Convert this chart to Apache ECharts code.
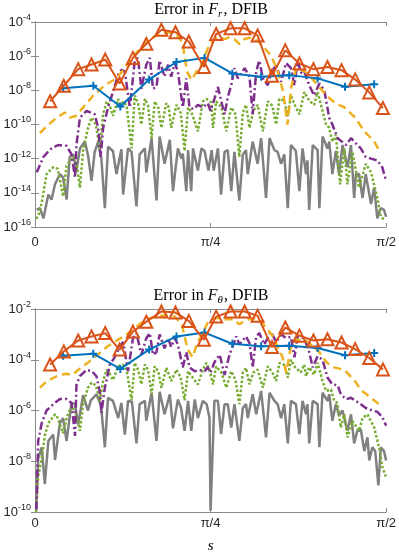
<!DOCTYPE html>
<html lang="en">
<head>
    <meta charset="UTF-8">
    <title>Error in F, DFIB</title>
    <style>
        html, body { margin: 0; padding: 0; background: #fff; }
    </style>
</head>
<body>
    <div id="main" style="height:555px; width: 399px;"></div>
    <script src="https://cdn.jsdelivr.net/npm/echarts@6/dist/echarts.min.js"></script>
    <script>
        // x is stored as a fraction of pi/2, y as log10 of the error
        var HALF_PI = Math.PI / 2;

        // markers: orange triangles and blue pluses
        var triX = [0.043, 0.082, 0.123, 0.161, 0.200, 0.241, 0.279, 0.317, 0.360, 0.400, 0.438, 0.481, 0.516,
            0.557, 0.597, 0.634, 0.675, 0.713, 0.753, 0.793, 0.833, 0.873, 0.912, 0.952, 0.991];
        var triTop = [-8.64, -7.73, -6.76, -6.49, -6.2, -7.6, -6.1, -5.28, -4.46, -4.6, -5.14, -6.63, -4.7,
            -4.37, -4.37, -4.79, -7.15, -5.66, -6.43, -6.76, -6.63, -6.82, -7.36, -8.12, -9.04];
        var triBot = [-4.19, -3.67, -3.24, -3.08, -2.95, -3.6, -2.89, -2.5, -2.1, -2.14, -2.47, -3.21, -2.3,
            -2.1, -2.1, -2.27, -3.5, -2.73, -3.05, -3.24, -3.19, -3.32, -3.58, -3.93, -4.38];
        var plusX = [0.080, 0.166, 0.243, 0.325, 0.403, 0.483, 0.562, 0.644, 0.724, 0.805, 0.883, 0.966];
        var plusTop = [-7.88, -7.73, -8.95, -7.36, -6.34, -6.1, -7.01, -7.2, -7.11, -7.3, -7.79, -7.65];
        var plusBot = [-3.84, -3.76, -4.36, -3.6, -3.08, -2.93, -3.37, -3.47, -3.45, -3.54, -3.82, -3.73];

        // F_r curves
        var grayTop = [[0.005,-15.0],[0.014,-14.9],[0.024,-15.5],[0.038,-14.1],[0.047,-14.4],[0.057,-13.5],[0.071,-12.9],
            [0.080,-13.1],[0.090,-14.4],[0.099,-11.9],[0.109,-11.75],[0.118,-12.7],[0.128,-11.4],[0.142,-11.0],[0.151,-11.8],
            [0.161,-13.3],[0.170,-11.6],[0.180,-11.0],[0.189,-12.0],[0.199,-14.9],[0.208,-11.3],[0.222,-11.55],[0.232,-12.9],
            [0.246,-11.45],[0.251,-14.1],[0.265,-11.4],[0.275,-11.6],[0.289,-14.8],[0.298,-11.75],[0.313,-11.4],[0.317,-12.8],
            [0.332,-10.8],[0.346,-14.45],[0.355,-10.7],[0.369,-12.3],[0.384,-10.9],[0.393,-13.9],[0.407,-11.4],[0.417,-12.0],
            [0.421,-11.7],[0.431,-13.9],[0.436,-11.5],[0.445,-13.9],[0.450,-11.4],[0.464,-12.7],[0.474,-11.4],[0.483,-11.55],
            [0.494,-12.7],[0.503,-11.5],[0.509,-12.7],[0.521,-11.4],[0.530,-14.1],[0.540,-11.6],[0.549,-11.5],[0.559,-13.9],
            [0.568,-11.6],[0.582,-14.45],[0.592,-11.75],[0.601,-11.5],[0.606,-12.9],[0.620,-11.0],[0.634,-12.3],[0.644,-10.8],
            [0.658,-14.3],[0.668,-10.8],[0.682,-11.5],[0.691,-11.6],[0.701,-12.3],[0.710,-11.75],[0.720,-14.9],[0.729,-11.2],
            [0.743,-11.55],[0.753,-13.9],[0.762,-11.4],[0.772,-12.9],[0.776,-12.1],[0.781,-15.0],[0.791,-11.2],[0.805,-11.5],
            [0.810,-14.9],[0.819,-10.7],[0.833,-11.4],[0.838,-11.0],[0.847,-12.9],[0.857,-11.55],[0.866,-12.9],[0.876,-11.2],
            [0.890,-12.5],[0.900,-11.2],[0.909,-14.3],[0.914,-12.9],[0.923,-12.9],[0.933,-14.3],[0.942,-12.9],[0.957,-14.65],
            [0.966,-13.7],[0.975,-15.5],[0.985,-14.9],[0.994,-15.0],[1.0,-15.4]];
        var greenTop = [[0.003,-15.5],[0.009,-15.4],[0.019,-14.6],[0.033,-12.9],[0.052,-12.5],[0.065,-12.6],[0.080,-14.2],
            [0.090,-12.4],[0.109,-11.9],[0.119,-12.4],[0.128,-13.7],[0.137,-11.5],[0.151,-10.2],[0.161,-9.6],[0.173,-10.0],
            [0.185,-11.4],[0.194,-9.4],[0.204,-8.65],[0.213,-8.9],[0.222,-9.5],[0.237,-8.5],[0.244,-9.0],[0.251,-8.65],
            [0.261,-8.9],[0.275,-11.4],[0.284,-8.3],[0.294,-8.8],[0.303,-10.0],[0.313,-8.5],[0.322,-8.9],[0.332,-10.8],
            [0.341,-8.65],[0.351,-9.0],[0.360,-10.2],[0.374,-8.75],[0.381,-9.0],[0.388,-10.2],[0.403,-8.85],[0.415,-9.3],
            [0.426,-11.55],[0.436,-9.0],[0.446,-9.3],[0.464,-10.4],[0.478,-8.65],[0.488,-8.5],[0.502,-8.7],[0.507,-10.2],
            [0.516,-8.65],[0.531,-9.0],[0.545,-10.4],[0.559,-9.0],[0.571,-9.4],[0.582,-11.9],[0.592,-9.3],[0.601,-8.85],
            [0.611,-10.2],[0.622,-9.2],[0.634,-8.85],[0.649,-10.4],[0.663,-8.65],[0.676,-8.9],[0.687,-10.0],[0.696,-8.5],
            [0.710,-8.6],[0.720,-9.5],[0.729,-8.3],[0.741,-8.9],[0.753,-9.4],[0.767,-8.1],[0.781,-8.6],[0.795,-8.85],
            [0.805,-8.1],[0.819,-9.2],[0.829,-10.0],[0.838,-10.2],[0.847,-11.0],[0.857,-10.6],[0.869,-13.5],[0.881,-11.4],
            [0.890,-13.5],[0.904,-11.6],[0.923,-13.7],[0.942,-12.3],[0.957,-12.8],[0.975,-14.3],[0.985,-15.4],[0.997,-15.6]];
        var purpleTop = [[0.005,-12.8],[0.024,-11.9],[0.043,-11.45],[0.066,-11.2],[0.090,-11.25],[0.104,-11.75],[0.114,-13.1],
            [0.118,-11.2],[0.128,-9.6],[0.147,-9.2],[0.170,-9.4],[0.180,-10.2],[0.187,-11.9],[0.194,-10.2],[0.208,-9.0],
            [0.222,-8.1],[0.237,-7.1],[0.246,-6.8],[0.256,-6.9],[0.270,-9.0],[0.284,-6.3],[0.293,-6.1],[0.303,-7.9],
            [0.317,-6.5],[0.327,-6.1],[0.336,-7.9],[0.346,-7.8],[0.355,-6.25],[0.369,-7.2],[0.379,-6.5],[0.388,-7.2],
            [0.398,-6.4],[0.407,-6.9],[0.421,-9.0],[0.431,-7.3],[0.440,-9.0],[0.452,-9.1],[0.464,-8.85],[0.478,-9.0],
            [0.492,-8.75],[0.500,-9.2],[0.511,-8.5],[0.521,-7.8],[0.530,-8.6],[0.540,-9.4],[0.549,-8.4],[0.559,-7.7],
            [0.568,-6.7],[0.578,-7.3],[0.597,-6.7],[0.611,-7.2],[0.620,-9.4],[0.630,-6.9],[0.639,-6.25],[0.649,-7.3],
            [0.663,-7.7],[0.672,-7.0],[0.687,-6.5],[0.701,-7.5],[0.715,-6.4],[0.729,-6.7],[0.739,-7.7],[0.748,-6.3],
            [0.759,-7.0],[0.767,-6.9],[0.781,-7.7],[0.795,-8.3],[0.810,-7.6],[0.824,-8.0],[0.838,-9.6],[0.847,-10.0],
            [0.862,-10.8],[0.886,-11.2],[0.900,-10.8],[0.914,-11.1],[0.928,-11.4],[0.942,-11.9],[0.957,-12.0],[0.975,-12.1],
            [0.989,-12.5],[1.0,-13.3]];
        var yellowTop = [[0.014,-10.5],[0.033,-10.1],[0.062,-9.6],[0.085,-9.3],[0.099,-9.6],[0.116,-9.5],[0.137,-9.0],
            [0.166,-8.3],[0.199,-7.7],[0.232,-7.3],[0.256,-6.7],[0.276,-6.1],[0.298,-5.6],[0.327,-5.0],[0.355,-4.7],
            [0.384,-4.6],[0.406,-4.8],[0.420,-5.2],[0.433,-6.9],[0.446,-7.4],[0.460,-6.9],[0.477,-6.4],[0.491,-5.6],
            [0.502,-5.2],[0.511,-5.0],[0.526,-4.9],[0.540,-5.0],[0.554,-4.9],[0.568,-5.0],[0.582,-5.3],[0.597,-5.0],
            [0.616,-4.9],[0.634,-5.1],[0.653,-5.5],[0.673,-6.0],[0.690,-6.8],[0.707,-8.1],[0.719,-10.0],[0.730,-7.8],
            [0.744,-6.7],[0.759,-6.8],[0.776,-7.0],[0.801,-7.6],[0.830,-8.3],[0.852,-8.7],[0.881,-9.0],[0.912,-9.6],
            [0.938,-10.4],[0.966,-11.0],[0.983,-11.6]];

        // F_theta curves
        var grayBot = [[0.003,-9.9],[0.009,-7.9],[0.019,-7.45],[0.028,-8.9],[0.038,-7.2],[0.052,-6.95],[0.057,-7.95],
            [0.071,-6.5],[0.080,-6.3],[0.090,-7.2],[0.104,-5.7],[0.114,-5.75],[0.123,-6.55],[0.137,-5.4],[0.151,-6.0],
            [0.159,-5.6],[0.175,-5.36],[0.188,-5.8],[0.199,-7.45],[0.208,-5.5],[0.222,-5.62],[0.237,-6.3],[0.246,-5.7],
            [0.256,-6.95],[0.265,-5.62],[0.276,-5.65],[0.289,-7.3],[0.298,-5.75],[0.313,-5.62],[0.317,-6.4],[0.332,-5.3],
            [0.346,-7.2],[0.355,-5.26],[0.369,-6.15],[0.384,-5.36],[0.393,-6.7],[0.407,-5.56],[0.416,-5.9],[0.426,-6.8],
            [0.436,-5.62],[0.445,-6.8],[0.455,-5.56],[0.464,-6.3],[0.478,-5.62],[0.489,-5.75],[0.497,-6.3],[0.500,-9.95],
            [0.511,-5.62],[0.521,-5.62],[0.530,-6.93],[0.540,-5.75],[0.549,-5.75],[0.559,-6.67],[0.568,-5.75],[0.582,-7.2],
            [0.592,-5.9],[0.601,-5.75],[0.606,-6.3],[0.620,-5.36],[0.630,-6.15],[0.644,-5.23],[0.658,-7.06],[0.668,-5.3],
            [0.682,-5.62],[0.691,-5.75],[0.701,-6.3],[0.710,-5.75],[0.720,-7.3],[0.729,-5.62],[0.743,-5.75],[0.753,-6.93],
            [0.762,-5.62],[0.772,-6.15],[0.776,-5.75],[0.781,-7.3],[0.791,-5.62],[0.805,-5.75],[0.810,-7.45],[0.819,-5.3],
            [0.833,-5.62],[0.838,-5.36],[0.847,-6.4],[0.857,-5.75],[0.866,-6.2],[0.876,-6.0],[0.890,-6.8],[0.900,-6.15],
            [0.909,-7.3],[0.918,-6.8],[0.928,-6.75],[0.938,-7.6],[0.947,-7.06],[0.952,-7.97],[0.961,-7.45],[0.969,-7.6],
            [0.978,-8.95],[0.985,-7.45],[0.994,-7.6],[1.0,-7.97]];
        var greenBot = [[0.003,-10.0],[0.009,-8.6],[0.019,-7.9],[0.028,-7.0],[0.038,-6.5],[0.057,-6.15],[0.065,-6.3],
            [0.080,-6.9],[0.090,-6.3],[0.104,-5.82],[0.116,-6.1],[0.128,-6.8],[0.137,-5.75],[0.151,-5.1],[0.161,-4.9],
            [0.173,-5.0],[0.185,-5.6],[0.194,-4.84],[0.204,-4.4],[0.213,-4.55],[0.222,-4.8],[0.237,-4.26],[0.251,-4.19],
            [0.261,-4.4],[0.275,-5.6],[0.284,-4.12],[0.294,-4.4],[0.303,-4.97],[0.313,-4.19],[0.322,-4.4],[0.332,-5.36],
            [0.341,-4.26],[0.351,-4.45],[0.360,-5.1],[0.374,-4.32],[0.388,-4.84],[0.403,-4.39],[0.415,-4.7],[0.426,-5.6],
            [0.436,-4.45],[0.446,-4.65],[0.464,-4.97],[0.478,-4.39],[0.488,-4.12],[0.497,-4.4],[0.507,-4.97],[0.516,-4.26],
            [0.531,-4.5],[0.545,-5.1],[0.559,-4.45],[0.571,-4.8],[0.582,-5.75],[0.592,-4.5],[0.601,-4.32],[0.611,-4.97],
            [0.622,-4.5],[0.634,-4.39],[0.649,-5.1],[0.663,-4.26],[0.676,-4.5],[0.687,-4.84],[0.696,-4.12],[0.710,-4.2],
            [0.720,-4.71],[0.729,-4.0],[0.741,-4.3],[0.757,-4.5],[0.767,-4.19],[0.772,-4.65],[0.781,-4.3],[0.795,-4.58],
            [0.805,-4.12],[0.819,-4.84],[0.829,-5.23],[0.843,-5.17],[0.852,-5.62],[0.861,-5.7],[0.871,-6.67],[0.881,-6.15],
            [0.890,-7.06],[0.904,-6.41],[0.923,-6.8],[0.933,-6.3],[0.947,-6.15],[0.966,-6.67],[0.980,-7.45],[0.989,-8.2],
            [0.999,-8.6]];
        var purpleBot = [[0.004,-9.9],[0.009,-7.2],[0.019,-6.5],[0.033,-6.0],[0.052,-5.75],[0.071,-5.55],[0.090,-5.55],
            [0.104,-5.7],[0.114,-7.0],[0.118,-5.0],[0.128,-4.64],[0.147,-4.4],[0.162,-4.45],[0.175,-4.65],[0.185,-5.3],
            [0.189,-6.1],[0.199,-5.1],[0.213,-4.2],[0.227,-3.9],[0.241,-3.5],[0.251,-3.3],[0.265,-4.45],[0.279,-3.15],
            [0.289,-2.95],[0.303,-3.8],[0.317,-3.15],[0.327,-2.95],[0.336,-3.8],[0.346,-3.7],[0.355,-3.0],[0.369,-3.55],
            [0.379,-3.15],[0.388,-3.5],[0.398,-3.15],[0.407,-3.4],[0.421,-4.3],[0.431,-3.7],[0.440,-4.3],[0.455,-4.45],
            [0.469,-4.4],[0.483,-4.45],[0.492,-4.3],[0.500,-4.5],[0.511,-4.1],[0.526,-3.8],[0.540,-4.6],[0.554,-3.8],
            [0.568,-3.28],[0.573,-3.08],[0.582,-3.4],[0.601,-3.08],[0.611,-3.35],[0.620,-4.3],[0.630,-3.08],[0.639,-2.95],
            [0.653,-3.4],[0.672,-2.9],[0.687,-3.3],[0.701,-3.0],[0.715,-3.15],[0.729,-3.1],[0.739,-3.9],[0.748,-3.1],
            [0.767,-3.15],[0.781,-3.7],[0.791,-4.3],[0.805,-3.86],[0.819,-4.0],[0.833,-4.7],[0.847,-4.97],[0.862,-5.0],
            [0.871,-5.36],[0.886,-5.56],[0.900,-5.5],[0.914,-5.62],[0.928,-5.75],[0.942,-5.9],[0.961,-6.0],[0.975,-6.05],
            [0.989,-6.25],[1.0,-6.6]];
        var yellowBot = [[0.014,-5.1],[0.033,-4.85],[0.062,-4.65],[0.088,-4.55],[0.105,-4.6],[0.137,-4.25],[0.166,-3.95],
            [0.204,-3.5],[0.232,-3.25],[0.256,-3.05],[0.276,-2.85],[0.298,-2.6],[0.318,-2.4],[0.349,-2.3],[0.369,-2.25],
            [0.398,-2.3],[0.418,-2.6],[0.435,-3.6],[0.449,-3.9],[0.463,-3.3],[0.477,-3.0],[0.491,-2.55],[0.503,-2.4],
            [0.520,-2.35],[0.540,-2.4],[0.563,-2.4],[0.582,-2.6],[0.599,-2.45],[0.622,-2.35],[0.645,-2.5],[0.662,-2.8],
            [0.679,-3.1],[0.705,-3.9],[0.716,-4.5],[0.730,-3.4],[0.744,-3.2],[0.772,-3.25],[0.795,-3.5],[0.810,-3.7],
            [0.830,-4.1],[0.852,-4.3],[0.881,-4.4],[0.909,-4.8],[0.929,-5.2],[0.957,-5.5],[0.980,-5.75]];

        var xTickNames = ['0', 'π/4', 'π/2'];

        var C = {
            blue: '#0072BD', orange: '#D95319', yellow: '#EDB120',
            purple: '#7E2F8E', green: '#77AC30', gray: '#808080'
        };

        function pts(arr) {
            return arr.map(function (p) { return [p[0] * HALF_PI, Math.pow(10, p[1])]; });
        }
        function zipPts(xs, es) {
            return xs.map(function (x, i) { return [x * HALF_PI, Math.pow(10, es[i])]; });
        }

        var myChart = echarts.init(document.getElementById('main'));

        var axisColor = '#8a8a8a';
        var labelColor = '#262626';

        function xAx(grid, pos, withLabel, margin) {
            return {
                type: 'value', gridIndex: grid, position: pos,
                min: 0, max: HALF_PI, interval: Math.PI / 4,
                axisLine: { show: true, onZero: false, lineStyle: { color: axisColor, width: 1 } },
                axisTick: { show: true, inside: true, length: 4, lineStyle: { color: axisColor } },
                splitLine: { show: false },
                axisLabel: {
                    show: withLabel, margin: margin, color: labelColor,
                    fontFamily: 'Liberation Sans', fontSize: 13,
                    formatter: function (v) { return xTickNames[Math.round(v / (Math.PI / 4))]; }
                }
            };
        }
        function yAx(grid, pos, withLabel, lo, hi) {
            return {
                type: 'log', logBase: 10, gridIndex: grid, position: pos,
                min: Math.pow(10, lo), max: Math.pow(10, hi), interval: 2, splitNumber: (hi - lo) / 2,
                axisLine: { show: true, lineStyle: { color: axisColor, width: 1 } },
                axisTick: { show: true, inside: true, length: 4, lineStyle: { color: axisColor } },
                splitLine: { show: false },
                axisLabel: {
                    show: withLabel, margin: 4, color: labelColor,
                    formatter: function (v) {
                        return '{b|10}{e|' + Math.round(Math.log10(v)) + '}';
                    },
                    rich: {
                        b: { fontFamily: 'Liberation Sans', fontSize: 13, lineHeight: 18, color: labelColor },
                        e: { fontFamily: 'Liberation Sans', fontSize: 9, lineHeight: 8, verticalAlign: 'top', color: labelColor }
                    }
                }
            };
        }

        function line(data, xi, yi, color, width, type, z) {
            return {
                type: 'line', xAxisIndex: xi, yAxisIndex: yi, data: data,
                showSymbol: false, symbol: 'none', z: z,
                lineStyle: { color: color, width: width, type: type }
            };
        }
        function marked(data, xi, yi, color, symbol, size, z) {
            return {
                type: 'line', xAxisIndex: xi, yAxisIndex: yi, data: data, z: z,
                symbol: symbol, symbolSize: size, showSymbol: true,
                lineStyle: { color: color, width: 2 },
                itemStyle: { color: 'rgba(255,255,255,0)', borderColor: color, borderWidth: 2 }
            };
        }
        var plusPath = 'path://M3,0H5V3H8V5H5V8H3V5H0V3H3Z';
        function plus(data, xi, yi, z) {
            return {
                type: 'line', xAxisIndex: xi, yAxisIndex: yi, data: data, z: z,
                symbol: plusPath, symbolSize: 8, showSymbol: true,
                lineStyle: { color: C.blue, width: 2 },
                itemStyle: { color: C.blue, borderWidth: 0 }
            };
        }

        var titleRich = {
            n: { fontFamily: 'Liberation Serif', fontWeight: 'normal', fontSize: 16, lineHeight: 20, color: '#000' },
            i: { fontFamily: 'Liberation Serif', fontWeight: 'normal', fontStyle: 'italic', fontSize: 16, lineHeight: 20, color: '#000' },
            s: { fontFamily: 'Liberation Serif', fontWeight: 'normal', fontStyle: 'italic', fontSize: 11, lineHeight: 10,
                 verticalAlign: 'bottom', padding: [0, 1, 0, 0], color: '#000' }
        };

        var option = {
            animation: false,
            backgroundColor: '#fff',
            title: [
                { text: '{n|Error in }{i|F}{s|r}{n|, DFIB}', left: 211, top: 0, padding: 0, textAlign: 'center',
                  textStyle: { fontWeight: 'normal', rich: titleRich } },
                { text: '{n|Error in }{i|F}{s|θ}{n|, DFIB}', left: 211, top: 286, padding: 0, textAlign: 'center',
                  textStyle: { fontWeight: 'normal', rich: titleRich } }
            ],
            grid: [
                { left: 35, right: 12, top: 22, height: 205 },
                { left: 35, right: 12, top: 309, height: 204 }
            ],
            xAxis: [
                xAx(0, 'bottom', true, 9),
                xAx(0, 'top', false, 0),
                Object.assign(xAx(1, 'bottom', true, 5), {
                    name: 's', nameLocation: 'middle', nameGap: 27,
                    nameTextStyle: { fontFamily: 'Liberation Serif', fontStyle: 'italic', fontSize: 15, color: '#000' }
                }),
                xAx(1, 'top', false, 0)
            ],
            yAxis: [
                yAx(0, 'left', true, -16, -4),
                yAx(0, 'right', false, -16, -4),
                yAx(1, 'left', true, -10, -2),
                yAx(1, 'right', false, -10, -2)
            ],
            series: [
                line(pts(grayTop), 0, 0, C.gray, 2.5, 'solid', 1),
                line(pts(greenTop), 0, 0, C.green, 2.5, [2.5, 2], 2),
                line(pts(purpleTop), 0, 0, C.purple, 2.5, [8, 3, 2, 3], 3),
                line(pts(yellowTop), 0, 0, C.yellow, 2.5, [8, 5], 4),
                plus(zipPts(plusX, plusTop), 0, 0, 5),
                marked(zipPts(triX, triTop), 0, 0, C.orange, 'triangle', 12, 6),

                line(pts(grayBot), 2, 2, C.gray, 2.5, 'solid', 1),
                line(pts(greenBot), 2, 2, C.green, 2.5, [2.5, 2], 2),
                line(pts(purpleBot), 2, 2, C.purple, 2.5, [8, 3, 2, 3], 3),
                line(pts(yellowBot), 2, 2, C.yellow, 2.5, [8, 5], 4),
                plus(zipPts(plusX, plusBot), 2, 2, 5),
                marked(zipPts(triX, triBot), 2, 2, C.orange, 'triangle', 12, 6)
            ]
        };
        myChart.setOption(option);
    </script>
</body>
</html>
